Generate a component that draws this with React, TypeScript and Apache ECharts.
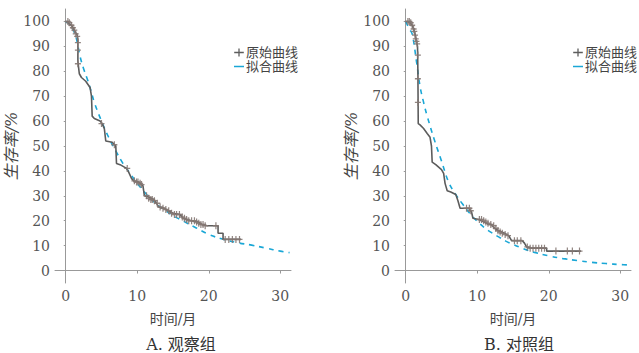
import React, { useEffect, useRef } from "react";
import * as echarts from "echarts";

// ---- Panel A (观察组) ----
const kmTimeA = [0, 0.3, 0.5, 0.8, 1.0, 1.2, 1.4, 1.6, 1.7, 1.7, 1.9, 2.2, 2.8, 3.4, 3.6, 3.7, 4.0, 4.8, 5.1, 5.4, 5.6, 6.5, 7.0, 7.1, 7.6, 8.5, 8.8, 9.2, 9.5, 10.2, 10.8, 11.0, 11.6, 12.3, 12.7, 13.0, 13.8, 14.3, 15.0, 16.0, 16.4, 16.9, 17.6, 18.5, 19.0, 19.8, 21.3, 21.3, 22.0, 22.0, 24.5];
const kmSurvA = [100, 100, 99, 98.5, 97.5, 96.5, 95.5, 94.5, 93, 84, 79, 77.5, 76, 73.5, 70, 62, 61, 60, 59, 57, 52, 51.5, 50, 43, 42.5, 41, 39.5, 37, 36, 35.5, 34, 30, 29.5, 28.5, 27, 25.5, 25, 24, 23, 22.5, 21, 20.5, 20, 19.5, 18.5, 18, 18, 15, 15, 12.5, 12.5];
const censorTimeA = [0.3, 0.5, 0.8, 1.0, 1.2, 1.4, 1.6, 1.7, 1.7, 1.7, 5.0, 6.8, 8.6, 9.6, 9.9, 10.1, 10.4, 10.6, 11.3, 11.6, 11.9, 12.1, 12.4, 12.8, 13.2, 13.6, 14.0, 14.4, 14.8, 15.2, 15.5, 15.9, 16.3, 16.6, 16.9, 17.2, 17.6, 18.0, 18.3, 18.6, 18.9, 19.2, 19.5, 21.0, 22.3, 22.8, 23.3, 23.8, 24.3];
const censorSurvA = [100, 99.5, 98.5, 97.5, 96.5, 95, 94, 91.5, 88.5, 83, 59, 50.5, 41, 36, 35.5, 35.5, 35, 34.5, 30, 29, 28.5, 28.5, 28, 27, 25.5, 25, 24.5, 24, 23, 22.5, 22.5, 22.5, 21.5, 21, 20.5, 20, 20, 20, 19.5, 19, 18.5, 18.5, 18, 18, 12.5, 12.5, 12.5, 12.5, 12.5];
const fitTimeA = [0, 0.5, 1.0, 1.5, 2.0, 2.5, 3.0, 3.5, 4.0, 5.0, 6.0, 7.0, 8.0, 9.0, 10.0, 11.0, 12.0, 13.0, 14.0, 15.0, 16.0, 17.0, 18.0, 20.0, 22.0, 24.0, 26.0, 28.0, 30.0, 31.3];
const fitSurvA = [100, 99, 97, 93, 86, 81, 77, 72.5, 67.5, 60, 53.5, 48, 43, 39, 35, 31.5, 28.5, 26, 24, 22, 20.5, 19, 17.5, 14.5, 12.6, 11.2, 10.2, 9, 7.8, 7.2];

// ---- Panel B (对照组) ----
const kmTimeB = [0, 0.3, 0.6, 0.9, 1.1, 1.3, 1.5, 1.65, 1.7, 1.75, 2.0, 2.5, 3.0, 3.4, 3.6, 3.7, 4.2, 5.0, 5.3, 5.5, 5.8, 6.3, 7.0, 7.3, 7.6, 8.8, 9.2, 9.4, 10.2, 11.0, 11.6, 12.0, 12.4, 13.0, 13.8, 14.4, 14.8, 16.3, 16.6, 16.9, 17.5, 19.7, 19.7, 24.5];
const kmSurvB = [100, 100, 99.5, 98.5, 97, 95, 92, 90, 80, 59, 58.5, 57, 55, 53.5, 50, 43.5, 42.5, 40.5, 39, 35, 32, 31.5, 30.5, 28, 25, 25, 23.5, 21, 20.5, 19.5, 18.5, 18.5, 17, 16, 15, 14, 12, 12, 11, 9.5, 9, 9, 7.8, 7.8];
const censorTimeB = [0.3, 0.5, 0.7, 0.9, 1.1, 1.2, 1.3, 1.4, 1.5, 1.6, 1.7, 1.7, 1.7, 8.5, 8.9, 9.1, 10.3, 10.6, 10.9, 11.2, 11.5, 11.9, 12.3, 12.6, 12.9, 13.2, 13.5, 13.9, 14.3, 15.2, 15.6, 16.1, 17.0, 17.4, 17.8, 18.2, 18.6, 19.0, 19.4, 21.0, 22.6, 23.3, 24.3];
const censorSurvB = [100, 100, 99.5, 98.5, 97, 96, 94.5, 93, 92, 91, 86.5, 77, 67.5, 25, 25, 24, 20.5, 20.5, 20, 19.5, 19, 18.5, 18, 17, 16, 15.5, 15, 14.5, 14, 12, 12, 12, 9.5, 9, 9, 9, 9, 9, 9, 7.8, 7.8, 7.8, 7.8];
const fitTimeB = [0, 0.5, 0.9, 1.5, 2.0, 2.5, 3.0, 4.0, 5.0, 6.0, 7.0, 8.0, 9.0, 10.0, 11.0, 12.0, 13.0, 14.0, 15.0, 16.0, 17.0, 18.0, 20.0, 22.0, 24.0, 26.0, 28.0, 30.0, 31.5];
const fitSurvB = [100, 97, 95, 84, 74, 67.5, 62, 52.5, 44, 35.5, 30.5, 26.5, 22.8, 19.8, 17.2, 15.2, 13.5, 11.8, 10.5, 9.3, 8.2, 7.3, 5.9, 4.8, 4.0, 3.3, 2.8, 2.4, 2.2];

const xTicks = [0, 10, 20, 30];
const yTicks = [0, 10, 20, 30, 40, 50, 60, 70, 80, 90, 100];
const seriesNames = ["原始曲线", "拟合曲线"];
const panelTitles = ["A. 观察组", "B. 对照组"];
const xName = "时间/月";
const yName = "生存率/%";

const zip = (a: number[], b: number[]) => a.map((v, i) => [v, b[i]]);

const SERIF = "'DejaVu Serif', 'Noto Sans CJK SC', serif";
const KM_COLOR = "#5c5c5c";
const CENSOR_COLOR = "#857873";
const FIT_COLOR = "#1aa7d6";
const CROSS = "path://M0,4h10v2H0z M4,0h2v10h-2z";

export default function App() {
  const ref = useRef<HTMLDivElement>(null);
  useEffect(() => {
    document.body.style.margin = "0";
    if (!ref.current) return;
    const chart = echarts.init(ref.current, null, { renderer: "svg" });
    const grids = [
      { left: 55, top: 9, width: 236, height: 274 },
      { left: 395, top: 9, width: 236, height: 274 },
    ];
    const mkX = (i: number) => ({
      type: "value",
      gridIndex: i,
      min: -1.5,
      max: 31.5,
      name: xName,
      nameLocation: "middle",
      nameGap: 29,
      nameTextStyle: { fontSize: 14, color: "#444", fontFamily: SERIF },
      axisLine: { show: true, lineStyle: { color: "#999", width: 1 } },
      axisTick: { show: true, length: 3, customValues: xTicks, lineStyle: { color: "#999" } },
      axisLabel: { customValues: xTicks, fontSize: 14, color: "#555", fontFamily: SERIF, margin: 6 },
      splitLine: { show: false },
    });
    const mkY = (i: number) => ({
      type: "value",
      gridIndex: i,
      min: -5,
      max: 105,
      name: yName,
      nameLocation: "middle",
      nameGap: 36,
      nameTextStyle: { fontSize: 16, color: "#444", fontFamily: SERIF, fontStyle: "italic" },
      axisLine: { show: true, lineStyle: { color: "#999", width: 1 } },
      axisTick: { show: true, length: 2, customValues: yTicks, lineStyle: { color: "#999" } },
      axisLabel: { customValues: yTicks, fontSize: 14, color: "#555", fontFamily: SERIF, margin: 5 },
      splitLine: { show: false },
    });
    const panels = [
      { km: zip(kmTimeA, kmSurvA), cen: zip(censorTimeA, censorSurvA), fit: zip(fitTimeA, fitSurvA) },
      { km: zip(kmTimeB, kmSurvB), cen: zip(censorTimeB, censorSurvB), fit: zip(fitTimeB, fitSurvB) },
    ];
    const series: any[] = [];
    panels.forEach((p, i) => {
      series.push({
        name: seriesNames[1],
        type: "line",
        xAxisIndex: i,
        yAxisIndex: i,
        data: p.fit,
        smooth: 0.4,
        symbol: "none",
        itemStyle: { color: FIT_COLOR },
        lineStyle: { color: FIT_COLOR, width: 1.6, type: [5, 5] },
        z: 1,
      });
      series.push({
        name: seriesNames[0],
        type: "line",
        xAxisIndex: i,
        yAxisIndex: i,
        data: p.km,
        symbol: "none",
        itemStyle: { color: KM_COLOR },
        lineStyle: { color: KM_COLOR, width: 1.6 },
        z: 2,
      });
      series.push({
        name: "censor" + i,
        type: "scatter",
        xAxisIndex: i,
        yAxisIndex: i,
        data: p.cen,
        symbol: CROSS,
        symbolSize: [6, 7],
        itemStyle: { color: CENSOR_COLOR, opacity: 0.9 },
        z: 3,
      });
    });
    const legendData = [
      { name: seriesNames[0], icon: "path://M0,4.2h12v1.6H0z M5.2,0h1.6v10h-1.6z" },
      { name: seriesNames[1], icon: "path://M0,4.1h12v1.8H0z" },
    ];
    const mkLegend = (left: number) => ({
      orient: "vertical",
      left,
      top: 41,
      itemWidth: 10,
      itemHeight: 8,
      itemGap: 1,
      data: legendData,
      selectedMode: false,
      textStyle: { fontSize: 13, lineHeight: 13, color: "#444", fontFamily: SERIF, padding: [0, 0, 0, -3] },
    });
    chart.setOption({
      animation: false,
      backgroundColor: "#fff",
      grid: grids,
      xAxis: [mkX(0), mkX(1)],
      yAxis: [mkY(0), mkY(1)],
      legend: [mkLegend(229), mkLegend(568)],
      title: [
        { text: panelTitles[0], left: 176, top: 331, textAlign: "center", textStyle: { fontSize: 16, fontWeight: "normal", color: "#333", fontFamily: SERIF } },
        { text: panelTitles[1], left: 514, top: 331, textAlign: "center", textStyle: { fontSize: 16, fontWeight: "normal", color: "#333", fontFamily: SERIF } },
      ],
      series,
    });
    return () => chart.dispose();
  }, []);
  return <div ref={ref} style={{ width: 639, height: 353 }} />;
}
